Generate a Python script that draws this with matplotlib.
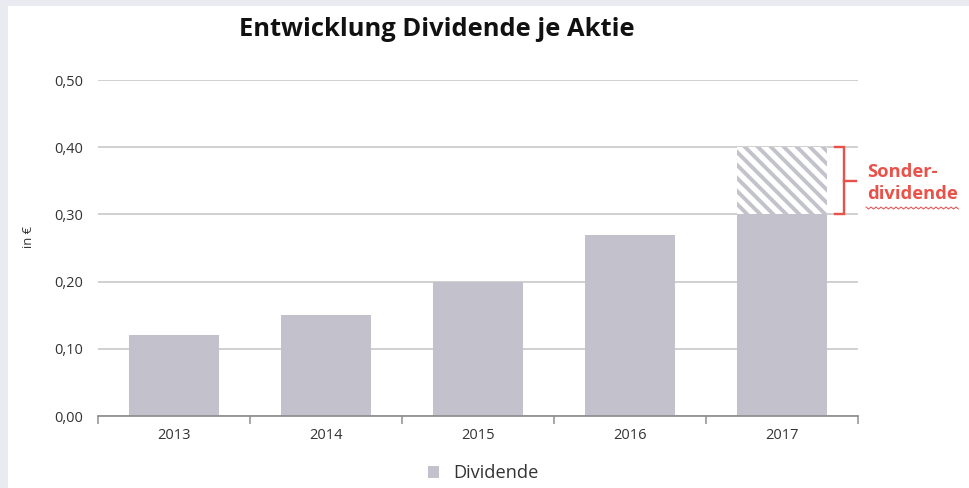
import numpy as np
import matplotlib
matplotlib.use("Agg")
import matplotlib.pyplot as plt
from matplotlib.patches import Rectangle, Patch
from matplotlib.ticker import FuncFormatter, FixedLocator

# data
years = ["2013", "2014", "2015", "2016", "2017"]
dividende = [0.12, 0.15, 0.20, 0.27, 0.30]
sonderdividende = [0.0, 0.0, 0.0, 0.0, 0.10]
y_ticks = [0.0, 0.1, 0.2, 0.3, 0.4, 0.5]

bar_color = "#c3c1cb"
hatch_color = "#c3c3cc"
red = "#e8524a"
text_color = "#333333"

DPI = 78
W, H = 969, 488

plt.rcParams["font.family"] = ["Open Sans", "DejaVu Sans"]
plt.rcParams["hatch.linewidth"] = 3.6

fig = plt.figure(figsize=(W / DPI, H / DPI), dpi=DPI, facecolor="#e9ebf0")

# white card behind everything
fig.patches.append(Rectangle((8 / W, 0), 1 - 8 / W, 1 - 6 / H, transform=fig.transFigure,
                             facecolor="white", edgecolor="none", zorder=-5))

ax = fig.add_axes([98 / W, 1 - 416 / H, (858 - 98) / W, (416 - 80) / H])
ax.set_facecolor("none")

x = np.arange(len(years))
width = 0.59
ax.bar(x, dividende, width, color=bar_color, zorder=2)
ax.bar(x, sonderdividende, width, bottom=dividende, facecolor="white",
       edgecolor=hatch_color, hatch="\\\\", linewidth=0, zorder=2)

ax.set_xlim(-0.5, len(years) - 0.5)
ax.set_ylim(0, 0.5)

# grid
ax.set_yticks(y_ticks)
ax.yaxis.set_major_formatter(FuncFormatter(lambda v, p: f"{v:.2f}".replace(".", ",")))
ax.grid(axis="y", color="#cacaca", linewidth=1.6, zorder=1)
ax.tick_params(axis="y", length=0, pad=14, labelsize=13.5, labelcolor=text_color)

# category axis with boundary ticks
ax.set_xticks(x)
ax.set_xticklabels(years)
ax.xaxis.set_minor_locator(FixedLocator(np.arange(len(years) + 1) - 0.5))
ax.tick_params(axis="x", which="major", length=0, pad=11, labelsize=13.5, labelcolor=text_color)
ax.tick_params(axis="x", which="minor", length=7, width=1.4, color="#8e8e8e", direction="out")

for s in ["left", "right", "top"]:
    ax.spines[s].set_visible(False)
ax.spines["bottom"].set_color("#8e8e8e")
ax.spines["bottom"].set_linewidth(1.6)
ax.spines["bottom"].set_zorder(3)

ax.set_axisbelow(True)

# title and y label
fig.text(437 / W, 1 - 30 / H, "Entwicklung Dividende je Aktie", ha="center", va="center",
         fontsize=23.5, fontweight="bold", color="#111111")
fig.text(29 / W, 1 - 237 / H, "in €", ha="center", va="center", rotation=90,
         fontsize=12, color=text_color)

# bracket for special dividend
i = len(years) - 1
lo = dividende[i]
hi = dividende[i] + sonderdividende[i]
xb = i + 0.41
ax.plot([xb - 0.06, xb, xb, xb - 0.06], [hi, hi, lo, lo], color=red, linewidth=2.2,
        solid_joinstyle="miter", clip_on=False, zorder=4)
ax.plot([xb, xb + 0.08], [(lo + hi) / 2] * 2, color=red, linewidth=2.2, clip_on=False, zorder=4)
ax.text(xb + 0.15, (lo + hi) / 2 - 0.003, "Sonder-\ndividende", ha="left", va="center", color=red,
        fontsize=17, fontweight="bold", linespacing=1.3, clip_on=False)

# spell-check squiggle under "dividende"
sx = np.arange(866, 960, 2.5)
sy = 208 + np.where(np.arange(len(sx)) % 2 == 0, -1.0, 1.0)
fig.add_artist(plt.Line2D(sx / W, 1 - sy / H, transform=fig.transFigure, color="#e64a4a",
                          linewidth=0.9))

# legend
handle = Patch(facecolor=bar_color, edgecolor="none")
fig.legend([handle], ["Dividende"], loc="center", bbox_to_anchor=(483 / W, 1 - 473 / H),
           frameon=False, fontsize=16.8, handlelength=0.65, handleheight=0.65,
           handletextpad=0.75, labelcolor=text_color)

fig.savefig("out.png", dpi=DPI, facecolor=fig.get_facecolor())
